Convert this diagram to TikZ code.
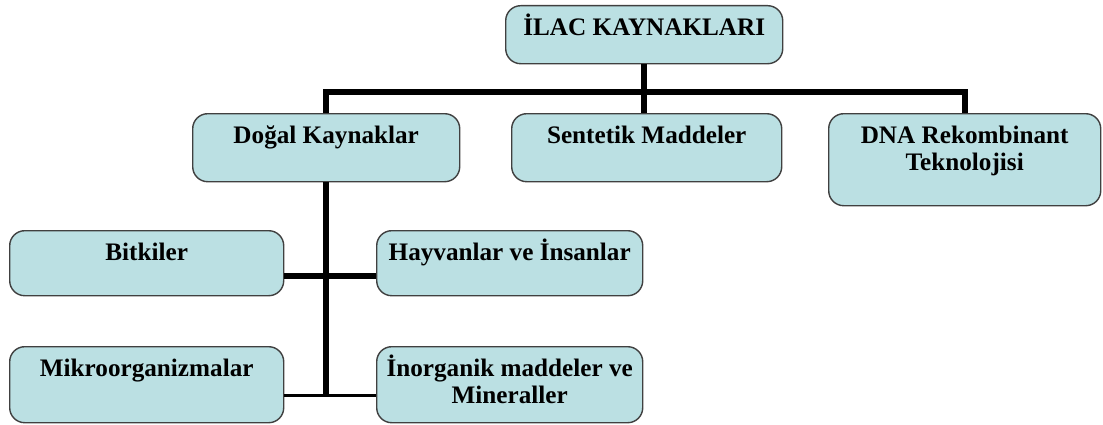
\documentclass[tikz,border=0pt]{standalone}
\usepackage{fontspec}
\setmainfont{Liberation Serif}

\definecolor{kutumavi}{RGB}{187,224,227}
\newcommand{\kutuyazi}[3]{\parbox[c][#2][t]{#1}{\centering\rule{0pt}{0.9cm}#3}}

\tikzset{
  kutu/.style={draw=black!75, line width=1.2pt, fill=kutumavi, rounded corners=0.45cm,
    inner sep=0pt, anchor=north west, font=\fontsize{21.5}{23}\selectfont\bfseries},
  kalin/.style={line width=5pt},
  ince/.style={line width=2.8pt}
}

\begin{document}
\begin{tikzpicture}[x=0.03cm, y=-0.03cm]
\useasboundingbox (0,0) rectangle (1103,424);
% kutular
\node[kutu] (ilac) at (505,5) {\kutuyazi{8.31cm}{1.74cm}{İLAC KAYNAKLARI}};
\node[kutu] (dogal) at (192,113) {\kutuyazi{8.01cm}{2.04cm}{Doğal Kaynaklar}};
\node[kutu] (sentetik) at (511,113) {\kutuyazi{8.1cm}{2.04cm}{Sentetik Maddeler}};
\node[kutu] (dna) at (828,113) {\kutuyazi{8.16cm}{2.76cm}{DNA Rekombinant\\Teknolojisi}};
\node[kutu] (bitki) at (9,230) {\kutuyazi{8.22cm}{1.95cm}{Bitkiler}};
\node[kutu] (hayvan) at (376,230) {\kutuyazi{7.98cm}{1.95cm}{Hayvanlar ve İnsanlar}};
\node[kutu] (mikro) at (9,346) {\kutuyazi{8.22cm}{2.28cm}{Mikroorganizmalar}};
\node[kutu] (inorg) at (376,346) {\kutuyazi{7.98cm}{2.28cm}{İnorganik maddeler ve\\Mineraller}};
% baglantilar
\coordinate (bus) at (645,92);
\draw[kalin] (ilac.south) -- (ilac.south |- sentetik.north);
\draw[kalin] (dogal.north) |- (bus) -| (dna.north);
\draw[kalin] ([yshift=-0.375cm]bitki.east) -- ([yshift=-0.375cm]hayvan.west);
\coordinate (alt) at ([yshift=-0.33cm]mikro.east);
\draw[kalin] (dogal.south) -- (dogal.south |- alt);
\draw[ince] (alt) -- ([yshift=-0.33cm]inorg.west);
\end{tikzpicture}
\end{document}
